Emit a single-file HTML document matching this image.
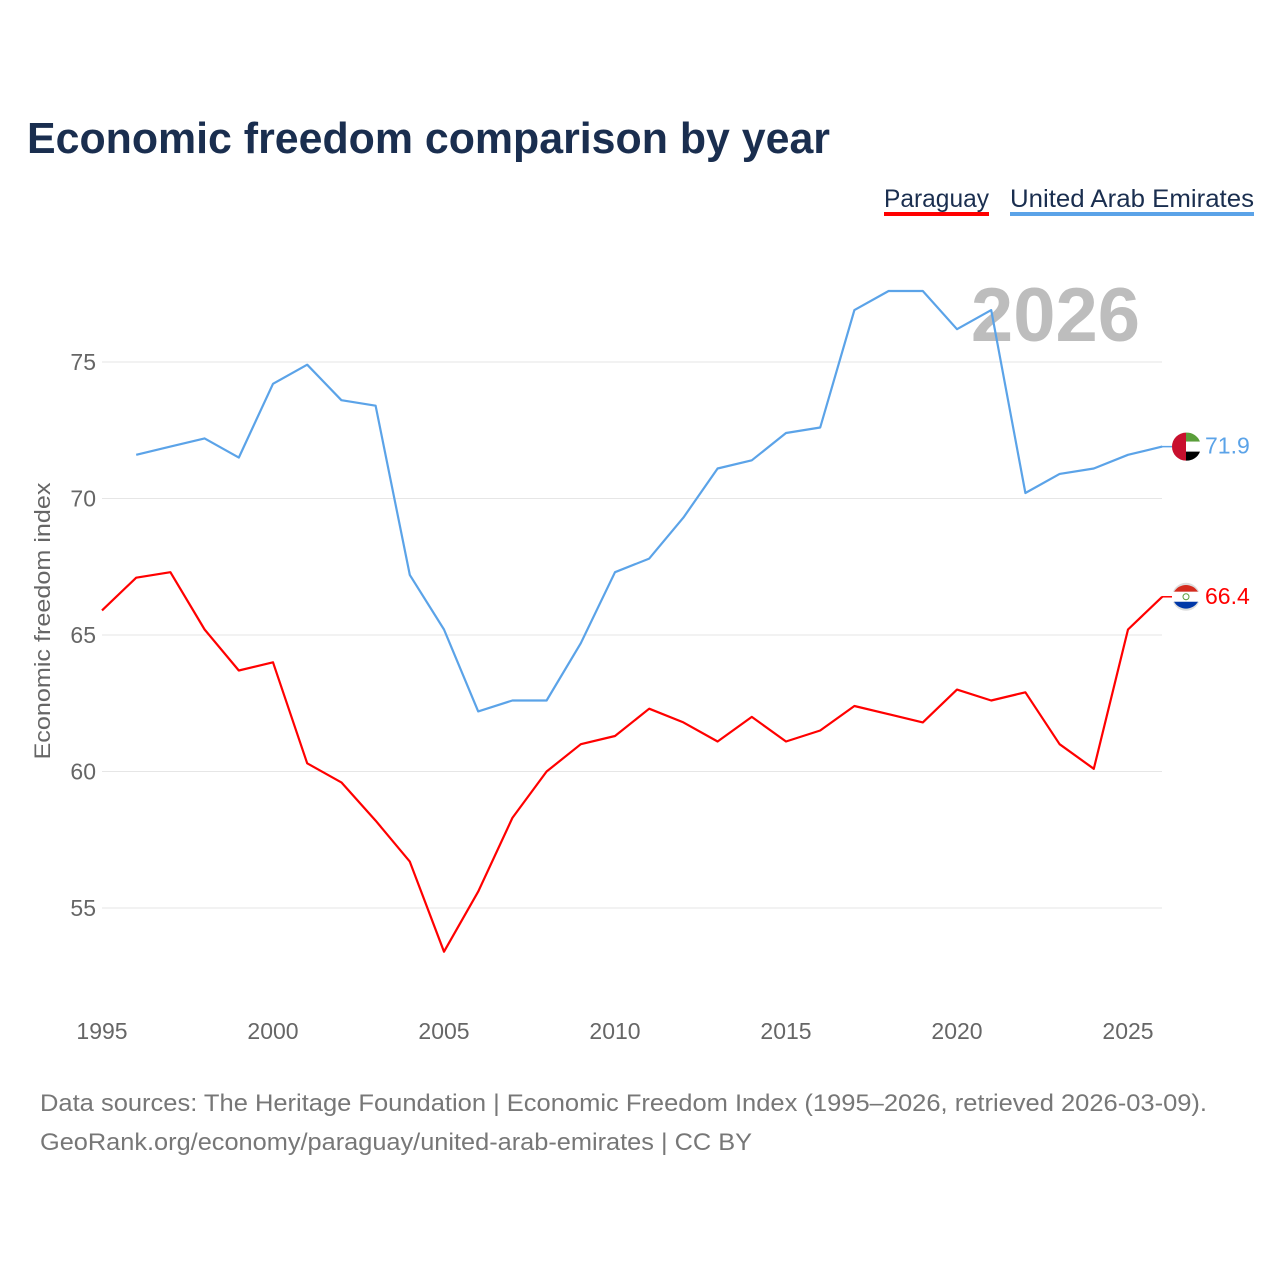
<!DOCTYPE html>
<html><head><meta charset="utf-8"><style>
body{margin:0;background:#fff;font-family:"Liberation Sans",sans-serif;}
svg text{font-family:"Liberation Sans",sans-serif;}
</style></head><body>
<svg id="chart" width="1280" height="1280" viewBox="0 0 1280 1280" xmlns="http://www.w3.org/2000/svg">
<rect width="1280" height="1280" fill="#fff"/>
<text x="27" y="153" font-size="44" font-weight="bold" fill="#1a2e4f" textLength="803" lengthAdjust="spacingAndGlyphs">Economic freedom comparison by year</text>
<g><text x="884" y="207" font-size="25" fill="#1a2e4f" textLength="105" lengthAdjust="spacingAndGlyphs">Paraguay</text><rect x="884" y="212" width="105" height="4" fill="#ff0000"/></g>
<g><text x="1010" y="207" font-size="25" fill="#1a2e4f" textLength="244" lengthAdjust="spacingAndGlyphs">United Arab Emirates</text><rect x="1010" y="212" width="244" height="4" fill="#5ba3e8"/></g>
<text x="1140" y="341" font-size="76" font-weight="bold" fill="#bdbdbd" text-anchor="end">2026</text>
<text transform="translate(50,621) rotate(-90)" font-size="22" fill="#666" text-anchor="middle" textLength="277" lengthAdjust="spacingAndGlyphs">Economic freedom index</text>
<g id="grid"></g><g id="xt"></g><g id="lines"></g>
<text x="40" y="1111" font-size="24" fill="#777" textLength="1167" lengthAdjust="spacingAndGlyphs">Data sources: The Heritage Foundation | Economic Freedom Index (1995–2026, retrieved 2026-03-09).</text>
<text x="40" y="1150" font-size="24" fill="#777" textLength="712" lengthAdjust="spacingAndGlyphs">GeoRank.org/economy/paraguay/united-arab-emirates | CC BY</text>
</svg>
<script>
const years=[1995,1996,1997,1998,1999,2000,2001,2002,2003,2004,2005,2006,2007,2008,2009,2010,2011,2012,2013,2014,2015,2016,2017,2018,2019,2020,2021,2022,2023,2024,2025,2026];
const paraguay=[65.9,67.1,67.3,65.2,63.7,64.0,60.3,59.6,58.2,56.7,53.4,55.6,58.3,60.0,61.0,61.3,62.3,61.8,61.1,62.0,61.1,61.5,62.4,62.1,61.8,63.0,62.6,62.9,61.0,60.1,65.2,66.4];
const uae=[null,71.6,71.9,72.2,71.5,74.2,74.9,73.6,73.4,67.2,65.2,62.2,62.6,62.6,64.7,67.3,67.8,69.3,71.1,71.4,72.4,72.6,76.9,77.6,77.6,76.2,76.9,70.2,70.9,71.1,71.6,71.9];
const yTicks=[55,60,65,70,75];
const xTicks=[1995,2000,2005,2010,2015,2020,2025];
const X=y=>102+(y-1995)*34.2;
const Y=v=>362+(75-v)*27.3;
const NS="http://www.w3.org/2000/svg";
function mk(t,a,p){const e=document.createElementNS(NS,t);for(const k in a)e.setAttribute(k,a[k]);document.getElementById(p).appendChild(e);return e;}
yTicks.forEach(v=>{
 const l=mk('line',{x1:102,x2:1162,y1:Y(v),y2:Y(v),stroke:'#e6e6e6','stroke-width':1},'grid');
 
 
 const t=mk('text',{x:96,y:Y(v)+8,'font-size':23,fill:'#666','text-anchor':'end'},'grid');t.textContent=v;
 
 
});
xTicks.forEach(v=>{
 const t=mk('text',{x:X(v),y:1039,'font-size':23,fill:'#666','text-anchor':'middle'},'xt');t.textContent=v;
 
 
});
function series(vals,color,name){
 const pts=[];vals.forEach((v,i)=>{if(v!=null)pts.push(X(years[i]).toFixed(1)+','+Y(v).toFixed(1));});
 const p=mk('polyline',{points:pts.join(' '),fill:'none',stroke:color,'stroke-width':2.2,'stroke-linejoin':'round'},'lines');
 
 
 const last=vals[vals.length-1],ly=Y(last);
 mk('line',{x1:1162,x2:1172,y1:ly,y2:ly,stroke:color,'stroke-width':1.5},'lines');
 const c=mk('circle',{cx:1186,cy:ly,r:14,fill:'#ddd'},'lines');
 
 
 const t=mk('text',{x:1205,y:ly+7,'font-size':23,fill:color},'lines');t.textContent=last.toFixed(1);
 
 
 return ly;
}
const ly1=series(uae,'#5ba3e8','uae');
const ly2=series(paraguay,'#ff0000','paraguay');
mk('path',{d:`M1186 ${ly1-14}A14 14 0 0 1 1200 ${ly1-5}H1186Z`,fill:'#5a9e3a'},'lines');
mk('rect',{x:1186,y:ly1-5,width:14,height:10,fill:'#fff'},'lines');
mk('path',{d:`M1186 ${ly1+5}H1200A14 14 0 0 1 1186 ${ly1+14}Z`,fill:'#000'},'lines');
mk('path',{d:`M1186 ${ly1-14}A14 14 0 0 0 1186 ${ly1+14}Z`,fill:'#c8102e'},'lines');
mk('path',{d:`M1174 ${ly2-5}A14 14 0 0 1 1198 ${ly2-5}Z`,fill:'#d52b1e'},'lines');
mk('rect',{x:1172,y:ly2-5,width:28,height:10,fill:'#fff'},'lines');
mk('path',{d:`M1174 ${ly2+5}H1198A14 14 0 0 1 1174 ${ly2+5}Z`,fill:'#0038a8'},'lines');
mk('circle',{cx:1186,cy:ly2,r:3,fill:'none',stroke:'#5a9e3a','stroke-width':1},'lines');
</script>
</body></html>
